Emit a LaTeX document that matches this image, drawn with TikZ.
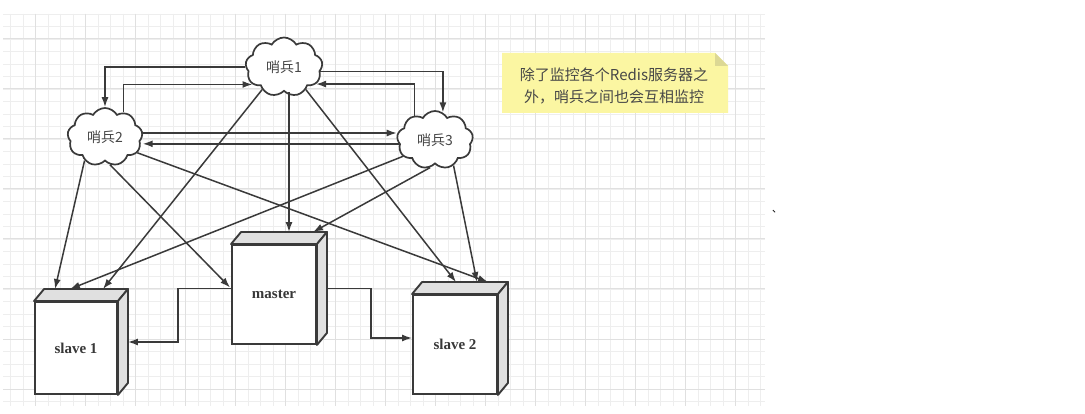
\documentclass[tikz,border=0pt]{standalone}
\usepackage{fontspec}
\setmainfont{Liberation Serif}
\newfontfamily\cjk{Noto Sans CJK SC}
\usetikzlibrary{shapes.symbols,arrows.meta,calc}
\definecolor{linec}{HTML}{3A3A3A}
\definecolor{gridminor}{HTML}{EEEEEE}
\definecolor{gridmajor}{HTML}{E0E0E0}
\definecolor{notefill}{HTML}{FBF6A2}
\definecolor{notefold}{HTML}{DCD894}
\definecolor{sidec}{HTML}{E0E0E0}
\begin{document}
\begin{tikzpicture}[x=1pt,y=-1pt,
  cloudnode/.style={cloud, cloud puffs=9, cloud puff arc=120, cloud ignores aspect, draw=linec, line width=1.7pt, fill=white, inner sep=0pt, font=\cjk\fontsize{14}{16}\selectfont, text=black!72},
  box/.style={draw=linec, line width=1.9pt, fill=white, inner sep=0pt, font=\bfseries\fontsize{15}{17}\selectfont, text=black!78},
  side/.style={draw=linec, line width=1.9pt, fill=sidec, line join=round},
  arr/.style={draw=linec, line width=1.5pt, -{Latex[length=10pt,width=7pt]}},
  notetext/.style={font=\cjk\fontsize{15}{22}\selectfont, text=black!72, align=center, inner sep=0pt},
]
\fill[white] (0,0) rectangle (1085,414);
\useasboundingbox (0,0) rectangle (1085,414);
% grid
\foreach \i in {0,...,60} \draw[gridminor, line width=0.9pt] ({10.5+12.5*\i},14) -- ({10.5+12.5*\i},406);
\foreach \j in {0,...,31} \draw[gridminor, line width=0.9pt] (3,{14+12.5*\j}) -- (765,{14+12.5*\j});
\foreach \i in {2,6,...,58} \draw[gridmajor, line width=1pt] ({10.5+12.5*\i},14) -- ({10.5+12.5*\i},406);
\foreach \j in {2,6,...,30} \draw[gridmajor, line width=1pt] (3,{14+12.5*\j}) -- (765,{14+12.5*\j});
% note
\fill[notefill] (502,53) -- (715,53) -- (728,66) -- (728,113) -- (502,113) -- cycle;
\fill[notefold] (715,53) -- (728,66) -- (715,66) -- cycle;
\node[notetext] (note) at (614,86) {除了监控各个Redis服务器之\\外，哨兵之间也会互相监控};
\node[font=\cjk\fontsize{10}{10}\selectfont, inner sep=0pt] (mark) at (777,212) {、};
% clouds
\node[cloudnode, minimum width=77pt, minimum height=59pt] (c1) at (284,67) {哨兵1};
\node[cloudnode, minimum width=75pt, minimum height=58pt] (c2) at (105,137) {哨兵2};
\node[cloudnode, minimum width=76pt, minimum height=58pt] (c3) at (435,140) {哨兵3};
% boxes
\node[box, minimum width=82pt, minimum height=92pt] (s1) at (76,348) {slave 1};
\node[box, minimum width=84pt, minimum height=99pt] (m) at (274,294.5) {master};
\node[box, minimum width=84pt, minimum height=99pt] (s2) at (455,344.5) {slave 2};
\foreach \b in {s1,m,s2} {
  \draw[side] (\b.north west) -- ++(10,-12) -- ([shift={(10pt,12pt)}]\b.north east) -- (\b.north east) -- cycle;
  \draw[side] (\b.north east) -- ++(10,-12) -- ([shift={(10pt,12pt)}]\b.south east) -- (\b.south east) -- cycle;
}
% master to slaves
\draw[arr] ([yshift=6pt]m.west) -- ++(-53,0) |- ([xshift=10pt,yshift=6pt]s1.east);
\draw[arr] ([xshift=10pt,yshift=6pt]m.east) -- ++(44,0) |- ([yshift=6.5pt]s2.west);
% sentinels among themselves
\draw[arr] (c1.west) -| (c2.north);
\draw[arr] (c2.53) |- (c1.209);
\draw[arr] (c1.353) -| (c3.74);
\draw[arr] (c3.130) |- (c1.332);
\draw[arr] (c2.6) -- (c2.6 -| c3.west);
\draw[arr] (c3.186) -- (c3.186 -| c2.east);
% sentinels to servers
\path ([xshift=15pt,yshift=12pt]m.north) coordinate (mt);
\draw[arr] (c1.226) -- ([xshift=27pt,yshift=12pt]s1.north);
\draw[arr] (c2.229) -- ([xshift=-21pt,yshift=12pt]s1.north);
\draw[arr] (c3.207) -- ([xshift=-6pt,yshift=12pt]s1.north);
\draw[arr] (c1.south -| mt) -- (mt);
\draw[arr] (c1.314) -- ([xshift=1pt,yshift=12pt]s2.north);
\draw[arr] (c2.280) -- ([xshift=-1pt,yshift=7pt]m.west);
\draw[arr] (c2.334) -- ([xshift=33pt,yshift=12pt]s2.north);
\draw[arr] (c3.260) -- ([xshift=39pt,yshift=12pt]m.north);
\draw[arr] (c3.306) -- ([xshift=22pt,yshift=12pt]s2.north);
\end{tikzpicture}
\end{document}
